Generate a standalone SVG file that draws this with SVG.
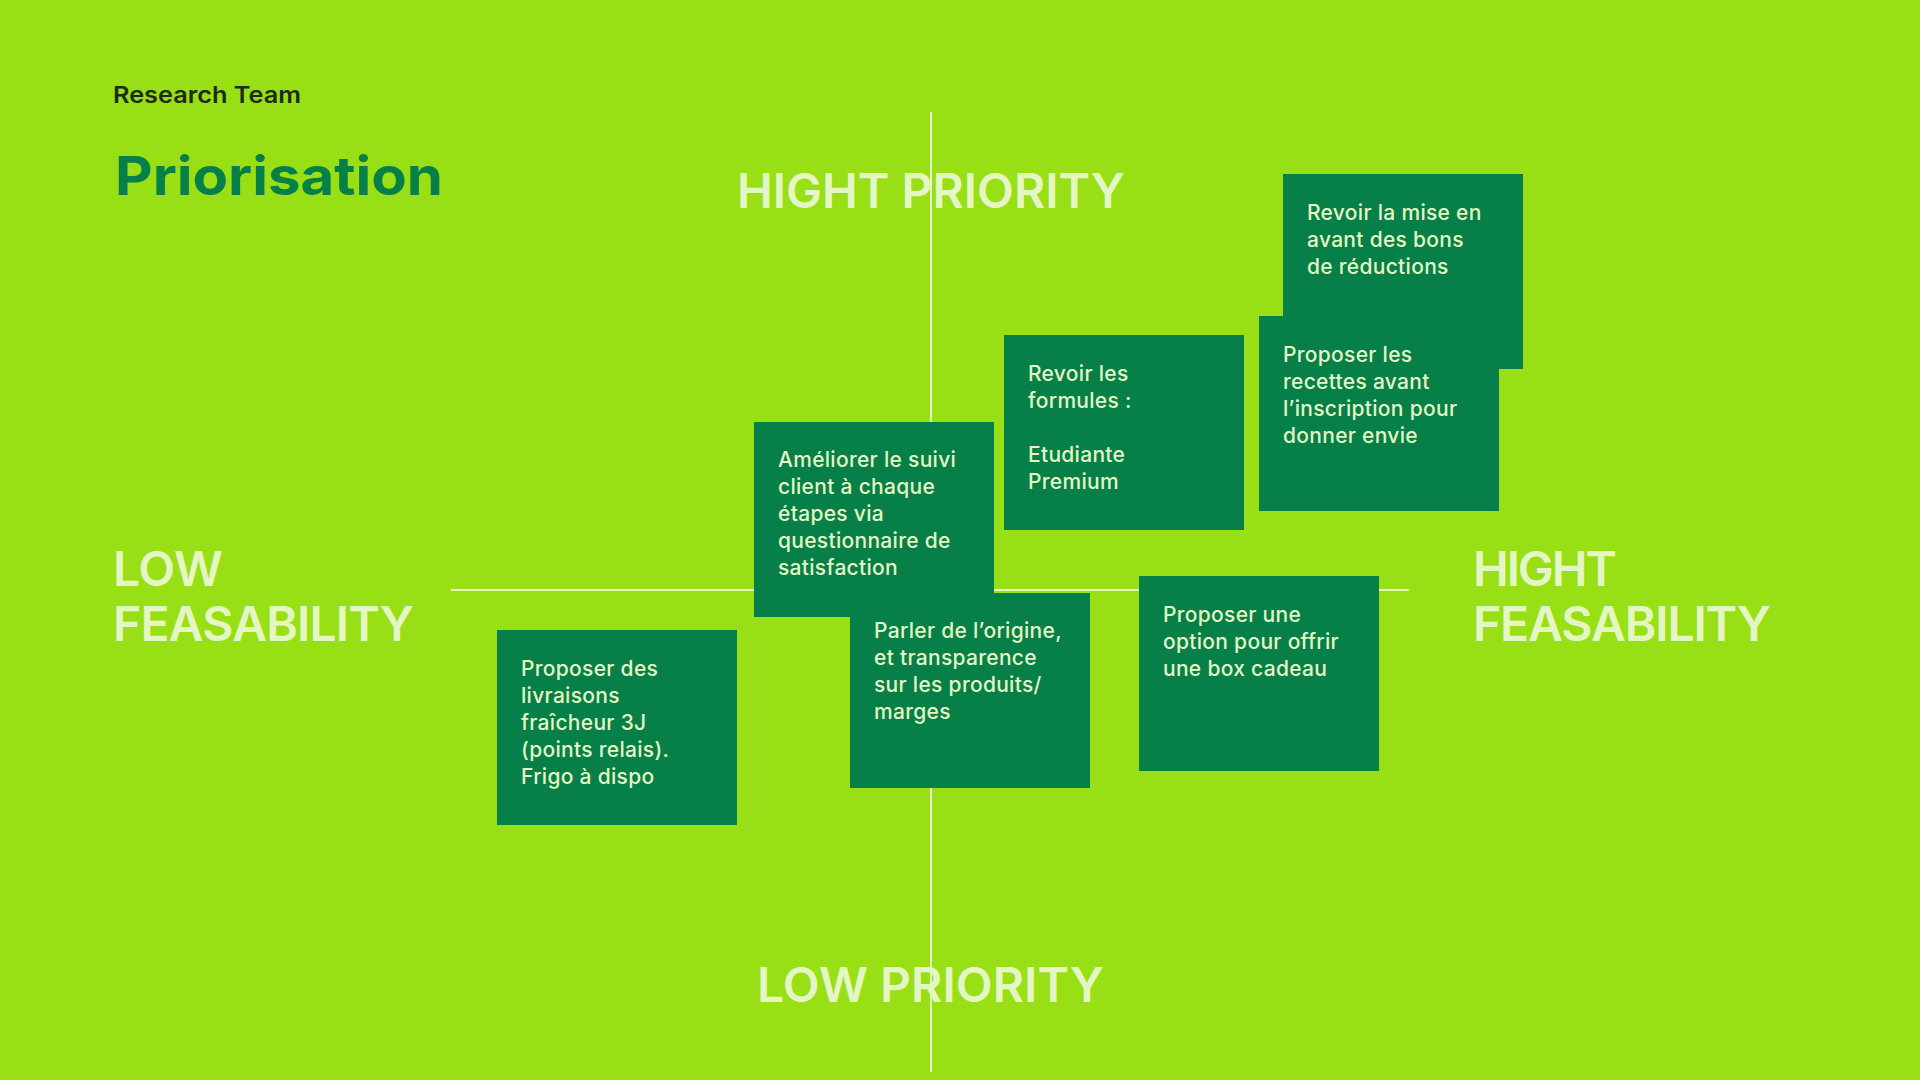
<svg xmlns="http://www.w3.org/2000/svg" width="1920" height="1080" viewBox="0 0 1920 1080">
  <style>
    .axis { stroke: #E4F6C4; stroke-width: 2; fill: none; }
    .card { fill: #067F48; }
    .card-text { font-family: Inter, "Noto Sans", "Liberation Sans", sans-serif; font-size: 21px; font-weight: 500; letter-spacing: 0.3px; fill: #E4F6C4; }
    .label { font-family: Inter, "Noto Sans", "Liberation Sans", sans-serif; font-size: 48px; font-weight: 600; fill: #E4F6C4; }
    .kicker { font-family: Inter, "Noto Sans", "Liberation Sans", sans-serif; font-size: 23px; font-weight: 600; fill: #1E2A14; }
    .title { font-family: Inter, "Noto Sans", "Liberation Sans", sans-serif; font-size: 54px; font-weight: 700; fill: #067F48; }
  </style>

  <!-- background -->
  <rect x="0" y="0" width="1920" height="1080" fill="#98DF15"/>

  <!-- header -->
  <text class="kicker" x="113" y="103" textLength="188" lengthAdjust="spacingAndGlyphs">Research Team</text>
  <text class="title" x="115" y="195" textLength="328" lengthAdjust="spacingAndGlyphs">Priorisation</text>

  <!-- priority / feasability axes -->
  <g id="connectors">
    <line class="axis" x1="931" y1="112" x2="931" y2="1072"/>
    <line class="axis" x1="451" y1="590" x2="1409" y2="590"/>
  </g>

  <!-- axis labels -->
  <text class="label" x="737" y="208" textLength="388" lengthAdjust="spacing">HIGHT PRIORITY</text>
  <text class="label" x="757" y="1002" textLength="347" lengthAdjust="spacing">LOW PRIORITY</text>
  <text class="label" x="113" y="586" textLength="110" lengthAdjust="spacing">LOW</text>
  <text class="label" x="113" y="641" textLength="301" lengthAdjust="spacing">FEASABILITY</text>
  <text class="label" x="1473" y="586" textLength="144" lengthAdjust="spacing">HIGHT</text>
  <text class="label" x="1473" y="641" textLength="298" lengthAdjust="spacing">FEASABILITY</text>

  <!-- idea cards -->
  <g id="card-formules">
    <rect class="card" x="1004" y="335" width="240" height="195"/>
    <text class="card-text" x="1028" y="381">
      <tspan x="1028" dy="0">Revoir les</tspan>
      <tspan x="1028" dy="27">formules :</tspan>
      <tspan x="1028" dy="54">Etudiante</tspan>
      <tspan x="1028" dy="27">Premium</tspan>
    </text>
  </g>

  <g id="card-bons-reduction">
    <rect class="card" x="1283" y="174" width="240" height="195"/>
    <text class="card-text" x="1307" y="220">
      <tspan x="1307" dy="0">Revoir la mise en</tspan>
      <tspan x="1307" dy="27">avant des bons</tspan>
      <tspan x="1307" dy="27">de réductions</tspan>
    </text>
  </g>

  <g id="card-recettes">
    <rect class="card" x="1259" y="316" width="240" height="195"/>
    <text class="card-text" x="1283" y="362">
      <tspan x="1283" dy="0">Proposer les</tspan>
      <tspan x="1283" dy="27">recettes avant</tspan>
      <tspan x="1283" dy="27">l’inscription pour</tspan>
      <tspan x="1283" dy="27">donner envie</tspan>
    </text>
  </g>

  <g id="card-origine">
    <rect class="card" x="850" y="593" width="240" height="195"/>
    <text class="card-text" x="874" y="638">
      <tspan x="874" dy="0">Parler de l’origine,</tspan>
      <tspan x="874" dy="27">et transparence</tspan>
      <tspan x="874" dy="27">sur les produits/</tspan>
      <tspan x="874" dy="27">marges</tspan>
    </text>
  </g>

  <g id="card-suivi-client">
    <rect class="card" x="754" y="422" width="240" height="195"/>
    <text class="card-text" x="778" y="467">
      <tspan x="778" dy="0">Améliorer le suivi</tspan>
      <tspan x="778" dy="27">client à chaque</tspan>
      <tspan x="778" dy="27">étapes via</tspan>
      <tspan x="778" dy="27">questionnaire de</tspan>
      <tspan x="778" dy="27">satisfaction</tspan>
    </text>
  </g>

  <g id="card-box-cadeau">
    <rect class="card" x="1139" y="576" width="240" height="195"/>
    <text class="card-text" x="1163" y="622">
      <tspan x="1163" dy="0">Proposer une</tspan>
      <tspan x="1163" dy="27">option pour offrir</tspan>
      <tspan x="1163" dy="27">une box cadeau</tspan>
    </text>
  </g>

  <g id="card-livraisons">
    <rect class="card" x="497" y="630" width="240" height="195"/>
    <text class="card-text" x="521" y="676">
      <tspan x="521" dy="0">Proposer des</tspan>
      <tspan x="521" dy="27">livraisons</tspan>
      <tspan x="521" dy="27">fraîcheur 3J</tspan>
      <tspan x="521" dy="27">(points relais).</tspan>
      <tspan x="521" dy="27">Frigo à dispo</tspan>
    </text>
  </g>
</svg>
